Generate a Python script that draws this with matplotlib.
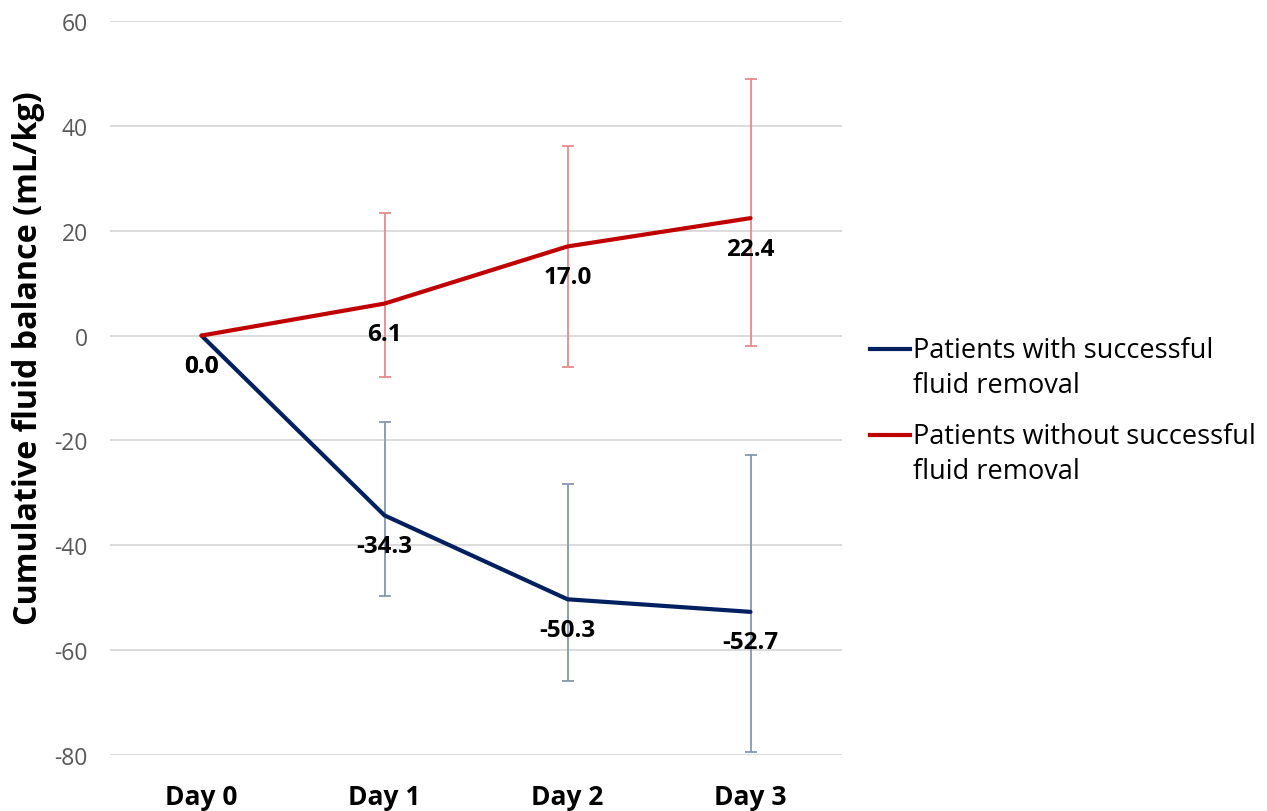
import matplotlib
matplotlib.use("Agg")
import matplotlib.pyplot as plt
from matplotlib.lines import Line2D
import numpy as np

# ─── DATA ────────────────────────────────────────────────────────────────────
days = ["Day 0", "Day 1", "Day 2", "Day 3"]

success_mean = [0.0, -34.3, -50.3, -52.7]
success_upper = [None, -16.5, -28.3, -22.8]
success_lower = [None, -49.7, -65.9, -79.4]

fail_mean = [0.0, 6.1, 17.0, 22.4]
fail_upper = [None, 23.3, 36.2, 48.9]
fail_lower = [None, -7.9, -5.9, -1.9]

series_labels = ["Patients with successful\nfluid removal",
                 "Patients without successful\nfluid removal"]

BLUE = "#002060"
RED = "#C00000"
BLUE_ERR = "#8497B0"
RED_ERR = "#E88A8A"
FONT = "Open Sans"

plt.rcParams["font.family"] = [FONT, "DejaVu Sans"]
plt.rcParams["axes.unicode_minus"] = False

fig = plt.figure(figsize=(12.67, 8.12), dpi=100)
ax = fig.add_axes([110 / 1267, 1 - 756 / 812, (842 - 110) / 1267, (756 - 22) / 812])

x = np.arange(len(days))


def draw_series(mean, upper, lower, color, err_color):
    idx = [i for i in range(len(mean)) if upper[i] is not None]
    m = np.array([mean[i] for i in idx])
    lo = m - np.array([lower[i] for i in idx])
    hi = np.array([upper[i] for i in idx]) - m
    ax.errorbar(x[idx], m, yerr=[lo, hi], fmt="none", ecolor=err_color,
                elinewidth=1.3, capsize=4, capthick=1.3, zorder=2)
    ax.plot(x, mean, color=color, linewidth=3, solid_capstyle="round", zorder=3)
    for xi, v in zip(x, mean):
        ax.annotate(f"{v:.1f}", (xi, v), xytext=(0, -22), textcoords="offset points",
                    ha="center", va="center", fontsize=17.5, fontweight="bold",
                    color="black", zorder=4)


draw_series(success_mean, success_upper, success_lower, BLUE, BLUE_ERR)
draw_series(fail_mean, fail_upper, fail_lower, RED, RED_ERR)

ax.set_xlim(-0.5, len(days) - 0.5)
ax.set_ylim(-80, 60)
ax.set_yticks(np.arange(-80, 61, 20))
ax.set_xticks(x)
ax.set_xticklabels(days, fontsize=19, fontweight="bold")
ax.tick_params(axis="x", length=0, pad=20)
ax.tick_params(axis="y", length=0, pad=16, labelsize=16.5, labelcolor="#595959")
ax.grid(axis="y", color="#D9D9D9", linewidth=1.3)
ax.set_axisbelow(True)
for s in ax.spines.values():
    s.set_visible(False)

fig.text(29 / 1267, 1 - 358 / 812, "Cumulative fluid balance (mL/kg)",
         rotation=90, ha="center", va="center", fontsize=23.2, fontweight="bold")

# legend drawn by hand so the handle sits on the first text line
for label, color, y0 in [(series_labels[0], BLUE, 350), (series_labels[1], RED, 436)]:
    fig.add_artist(Line2D([870 / 1267, 910 / 1267], [1 - y0 / 812, 1 - y0 / 812],
                          color=color, linewidth=3, transform=fig.transFigure))
    fig.text(913 / 1267, 1 - (y0 - 13) / 812, label, ha="left", va="top",
             fontsize=19.5, color="black", linespacing=1.32)

fig.savefig("out.png", dpi=100)
